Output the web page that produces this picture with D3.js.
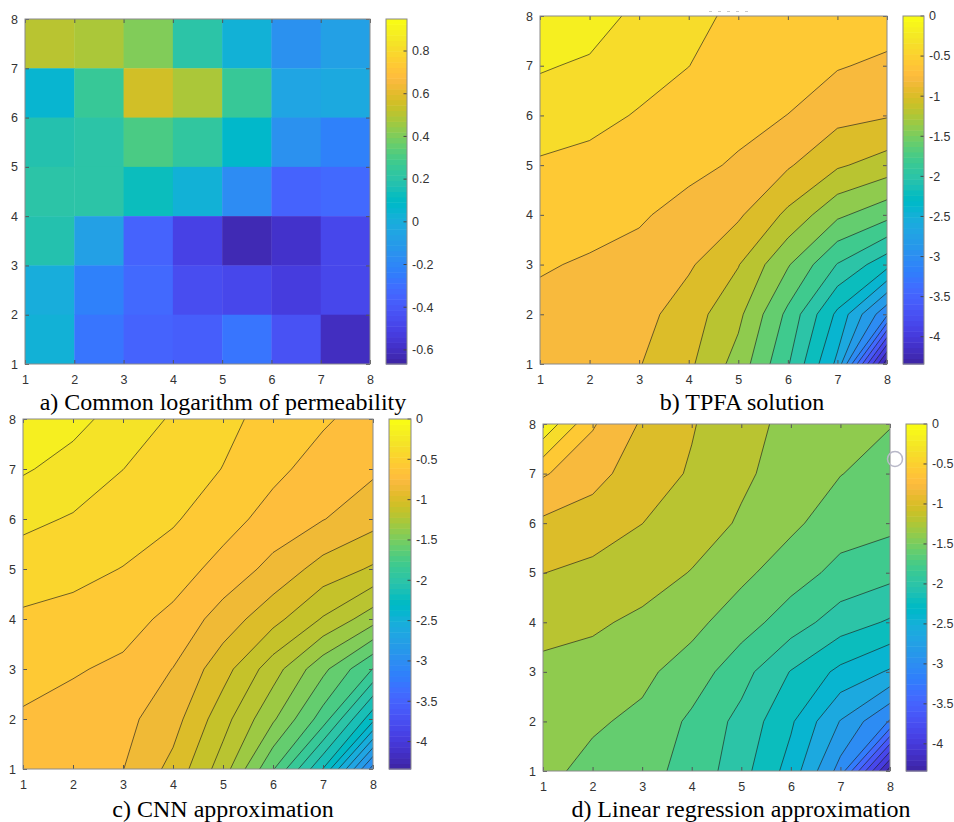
<!DOCTYPE html>
<html>
<head>
<meta charset="utf-8">
<script src="https://d3js.org/d3.v7.min.js"></script>
<style>
  body { margin: 0; background: #fff; }
  svg text { font-family: "Liberation Sans", Arial, sans-serif; }
  .axis text, .cbar text { font-size: 12.5px; fill: #333; }
  .axis line { stroke: #555; }
  .title { font-family: "Liberation Serif", "Times New Roman", serif; font-size: 24px; fill: #000; }
</style>
</head>
<body>
<svg id="fig" width="954" height="822"></svg>
<script>
// MATLAB parula(64)
const parula = [
  [0.2422,0.1504,0.6603],[0.2504,0.1650,0.7076],[0.2578,0.1818,0.7511],[0.2647,0.1978,0.7952],
  [0.2706,0.2147,0.8364],[0.2751,0.2342,0.8710],[0.2783,0.2559,0.8991],[0.2803,0.2782,0.9221],
  [0.2813,0.3006,0.9414],[0.2810,0.3228,0.9579],[0.2795,0.3447,0.9717],[0.2760,0.3667,0.9829],
  [0.2699,0.3892,0.9906],[0.2602,0.4123,0.9952],[0.2440,0.4358,0.9988],[0.2206,0.4603,0.9973],
  [0.1963,0.4847,0.9892],[0.1834,0.5074,0.9798],[0.1786,0.5289,0.9682],[0.1764,0.5499,0.9520],
  [0.1687,0.5703,0.9359],[0.1540,0.5902,0.9218],[0.1460,0.6091,0.9079],[0.1380,0.6276,0.8973],
  [0.1248,0.6459,0.8883],[0.1113,0.6635,0.8763],[0.0952,0.6798,0.8598],[0.0689,0.6948,0.8394],
  [0.0297,0.7082,0.8163],[0.0036,0.7203,0.7917],[0.0067,0.7312,0.7660],[0.0433,0.7411,0.7394],
  [0.0964,0.7500,0.7120],[0.1408,0.7584,0.6842],[0.1717,0.7670,0.6554],[0.1938,0.7758,0.6251],
  [0.2161,0.7843,0.5923],[0.2470,0.7918,0.5567],[0.2906,0.7973,0.5188],[0.3406,0.8008,0.4789],
  [0.3909,0.8029,0.4354],[0.4456,0.8024,0.3909],[0.5044,0.7993,0.3480],[0.5616,0.7942,0.3045],
  [0.6174,0.7876,0.2612],[0.6720,0.7793,0.2227],[0.7242,0.7698,0.1910],[0.7738,0.7598,0.1646],
  [0.8203,0.7498,0.1535],[0.8634,0.7406,0.1596],[0.9035,0.7330,0.1774],[0.9393,0.7288,0.2100],
  [0.9728,0.7298,0.2394],[0.9956,0.7434,0.2371],[0.9970,0.7659,0.2199],[0.9952,0.7893,0.2028],
  [0.9892,0.8136,0.1885],[0.9786,0.8386,0.1766],[0.9676,0.8639,0.1643],[0.9610,0.8890,0.1537],
  [0.9597,0.9135,0.1423],[0.9628,0.9373,0.1265],[0.9691,0.9606,0.1064],[0.9769,0.9839,0.0805]
];

// axes ticks (both axes run 1..8)
const gridTicks = [1, 2, 3, 4, 5, 6, 7, 8];

// colorbar of panel a
const permRange = [-0.666, 0.95];
const permTicks = [-0.6, -0.4, -0.2, 0, 0.2, 0.4, 0.6, 0.8];
const permTickLabels = ["-0.6", "-0.4", "-0.2", "0", "0.2", "0.4", "0.6", "0.8"];

// shared colorbar of panels b, c, d
const pressRange = [-4.34, 0];
const pressTicks = [0, -0.5, -1, -1.5, -2, -2.5, -3, -3.5, -4];
const pressTickLabels = ["0", "-0.5", "-1", "-1.5", "-2", "-2.5", "-3", "-3.5", "-4"];

// a) log10 permeability, 7x7 cells, top row (y 7..8) first, x 1..8 left to right
const permCells = [
  [0.52, 0.48, 0.40, 0.20, 0.02, -0.15, -0.08],
  [0.05, 0.25, 0.57, 0.48, 0.25, -0.04, -0.03],
  [0.18, 0.20, 0.30, 0.22, 0.08, -0.15, -0.22],
  [0.20, 0.20, 0.12, 0.03, -0.17, -0.35, -0.33],
  [0.18, -0.08, -0.34, -0.50, -0.63, -0.58, -0.47],
  [0.00, -0.22, -0.33, -0.45, -0.48, -0.52, -0.47],
  [0.03, -0.27, -0.35, -0.38, -0.27, -0.42, -0.60]
];

// b) TPFA solution on the 8x8 nodes, top row (y = 8) first
const tpfaGrid = [
  [-0.05, -0.10, -0.254, -0.36, -0.43, -0.46, -0.49, -0.50],
  [-0.18, -0.23, -0.333, -0.398, -0.49, -0.53, -0.585, -0.64],
  [-0.306, -0.35, -0.413, -0.479, -0.55, -0.602, -0.74, -0.785],
  [-0.421, -0.449, -0.497, -0.558, -0.62, -0.777, -0.973, -1.09],
  [-0.502, -0.534, -0.581, -0.655, -0.77, -1.043, -1.36, -1.535],
  [-0.583, -0.62, -0.653, -0.772, -0.99, -1.38, -1.81, -2.13],
  [-0.65, -0.69, -0.725, -0.904, -1.15, -1.65, -2.245, -2.96],
  [-0.70, -0.75, -0.79, -0.96, -1.28, -1.78, -2.45, -4.34]
];

// c) CNN approximation
const cnnGrid = [
  [-0.03, -0.122, -0.216, -0.309, -0.393, -0.470, -0.541, -0.613],
  [-0.147, -0.212, -0.293, -0.360, -0.429, -0.526, -0.612, -0.668],
  [-0.262, -0.306, -0.361, -0.411, -0.505, -0.608, -0.685, -0.774],
  [-0.361, -0.389, -0.430, -0.495, -0.604, -0.730, -0.875, -0.972],
  [-0.446, -0.468, -0.509, -0.591, -0.748, -0.909, -1.098, -1.293],
  [-0.510, -0.546, -0.583, -0.693, -0.901, -1.157, -1.446, -1.75],
  [-0.574, -0.607, -0.652, -0.769, -1.033, -1.329, -1.676, -2.234],
  [-0.637, -0.664, -0.687, -0.862, -1.152, -1.601, -2.147, -2.993]
];

// d) linear regression approximation
const lrGrid = [
  [-0.035, -0.58, -0.824, -0.987, -1.12, -1.26, -1.33, -1.391],
  [-0.58, -0.726, -0.912, -1.018, -1.17, -1.27, -1.394, -1.481],
  [-0.836, -0.902, -0.998, -1.112, -1.22, -1.358, -1.509, -1.55],
  [-0.997, -1.047, -1.118, -1.208, -1.352, -1.508, -1.659, -1.736],
  [-1.147, -1.172, -1.237, -1.342, -1.51, -1.70, -1.90, -2.024],
  [-1.238, -1.27, -1.356, -1.49, -1.725, -2.01, -2.25, -2.424],
  [-1.30, -1.375, -1.44, -1.64, -1.86, -2.17, -2.61, -3.017],
  [-1.354, -1.451, -1.54, -1.66, -1.925, -2.281, -2.88, -4.3]
];

// contour levels
const tpfaLevels = [-4.2, -4.0, -3.8, -3.6, -3.4, -3.2, -3.0, -2.8, -2.6, -2.4, -2.2,
                    -2.0, -1.8, -1.6, -1.4, -1.2, -1.0, -0.8, -0.6, -0.4, -0.2];
const cnnLevels = [-2.934, -2.802, -2.670, -2.538, -2.406, -2.274, -2.142, -2.010, -1.878,
                   -1.746, -1.614, -1.482, -1.350, -1.218, -1.086, -0.954, -0.822, -0.690,
                   -0.558, -0.426, -0.294, -0.162];
const lrLevels = tpfaLevels;

// panel boxes (pixels)
const layout = {
  a: { x0: 25, x1: 370, y0: 19, y1: 364, cb: [386, 407], tx: 223, ty: 410 },
  b: { x0: 540, x1: 887, y0: 16, y1: 364, cb: [903, 924], tx: 742, ty: 410 },
  c: { x0: 23, x1: 373, y0: 419, y1: 769, cb: [389, 411], tx: 223, ty: 817 },
  d: { x0: 543, x1: 890, y0: 424, y1: 771, cb: [906, 927], tx: 741, ty: 817 }
};

const svg = d3.select("#fig");

// value -> parula colour, direct scaled mapping like MATLAB
function cmap(v, range) {
  const t = (v - range[0]) / (range[1] - range[0]);
  const i = Math.max(0, Math.min(63, Math.floor(t * 64)));
  const c = parula[i];
  return d3.rgb(c[0] * 255, c[1] * 255, c[2] * 255).formatHex();
}

function scales(box) {
  const x = d3.scaleLinear().domain([1, 8]).range([box.x0, box.x1]);
  const y = d3.scaleLinear().domain([1, 8]).range([box.y1, box.y0]);
  return { x, y };
}

function drawFrame(box, x, y) {
  const g = svg.append("g");
  const fmt = d3.format("d");
  g.append("g").attr("class", "axis")
    .attr("transform", `translate(0,${box.y1})`)
    .call(d3.axisBottom(x).tickValues(gridTicks).tickFormat(fmt)
      .tickSize(-4).tickSizeOuter(0).tickPadding(11));
  g.append("g").attr("class", "axis")
    .attr("transform", `translate(${box.x0},0)`)
    .call(d3.axisLeft(y).tickValues(gridTicks).tickFormat(fmt)
      .tickSize(-4).tickSizeOuter(0).tickPadding(7));
  g.append("g").attr("class", "axis")
    .attr("transform", `translate(0,${box.y0})`)
    .call(d3.axisTop(x).tickValues(gridTicks).tickSize(-4).tickSizeOuter(0).tickFormat(() => ""));
  g.append("g").attr("class", "axis")
    .attr("transform", `translate(${box.x1},0)`)
    .call(d3.axisRight(y).tickValues(gridTicks).tickSize(-4).tickSizeOuter(0).tickFormat(() => ""));
  g.selectAll(".domain").remove();
  g.append("rect")
    .attr("x", box.x0).attr("y", box.y0)
    .attr("width", box.x1 - box.x0).attr("height", box.y1 - box.y0)
    .attr("fill", "none").attr("stroke", "#8a8a8a").attr("stroke-width", 1);
}

function drawColorbar(box, range, ticks, labels) {
  const cy = d3.scaleLinear().domain(range).range([box.y1, box.y0]);
  const [cx0, cx1] = box.cb;
  const g = svg.append("g").attr("class", "cbar");
  const span = range[1] - range[0];
  g.selectAll("rect.band").data(d3.range(64)).join("rect")
    .attr("class", "band")
    .attr("x", cx0).attr("width", cx1 - cx0)
    .attr("y", i => cy(range[0] + (i + 1) / 64 * span))
    .attr("height", i => cy(range[0] + i / 64 * span) - cy(range[0] + (i + 1) / 64 * span) + 0.5)
    .attr("fill", i => { const c = parula[i]; return d3.rgb(c[0] * 255, c[1] * 255, c[2] * 255).formatHex(); });
  g.selectAll("line.tk").data(ticks).join("line")
    .attr("class", "tk")
    .attr("x1", cx1 - 3.5).attr("x2", cx1)
    .attr("y1", d => cy(d)).attr("y2", d => cy(d))
    .attr("stroke", "#444");
  g.selectAll("text").data(ticks).join("text")
    .attr("x", cx1 + 5).attr("y", d => cy(d)).attr("dy", "0.35em")
    .text((d, i) => labels[i]);
  g.append("rect")
    .attr("x", cx0).attr("y", box.y0)
    .attr("width", cx1 - cx0).attr("height", box.y1 - box.y0)
    .attr("fill", "none").attr("stroke", "#8a8a8a");
}

function drawTitle(box, text) {
  svg.append("text").attr("class", "title")
    .attr("x", box.tx).attr("y", box.ty)
    .attr("text-anchor", "middle")
    .text(text);
}

function clipFor(id, box) {
  svg.append("clipPath").attr("id", id).append("rect")
    .attr("x", box.x0).attr("y", box.y0)
    .attr("width", box.x1 - box.x0).attr("height", box.y1 - box.y0);
  return svg.append("g").attr("clip-path", `url(#${id})`);
}

// panel a: heatmap
function drawHeatmap(box) {
  const { x, y } = scales(box);
  const cells = [];
  permCells.forEach((row, r) => row.forEach((v, c) => {
    cells.push({ xi: c + 1, yi: 7 - r, v });
  }));
  const g = clipFor("clip-a", box);
  g.selectAll("rect").data(cells).join("rect")
    .attr("x", d => x(d.xi))
    .attr("y", d => y(d.yi + 1))
    .attr("width", d => x(d.xi + 1) - x(d.xi) + 0.4)
    .attr("height", d => y(d.yi) - y(d.yi + 1) + 0.4)
    .attr("fill", d => cmap(d.v, permRange));
  drawFrame(box, x, y);
  drawColorbar(box, permRange, permTicks, permTickLabels);
  drawTitle(box, "a) Common logarithm of permeability");
}

// panels b-d: filled contours
function drawContourPanel(id, box, grid, levels, title) {
  const { x, y } = scales(box);
  const n = 8;
  const values = grid.slice().reverse().flat();   // row 0 = y 1
  const zmin = d3.min(values);
  const proj = d3.geoTransform({
    point(px, py) { this.stream.point(x(px + 0.5), y(py + 0.5)); }
  });
  const path = d3.geoPath(proj);
  const thresholds = [zmin - 1].concat(levels);
  const shapes = d3.contours().size([n, n]).thresholds(thresholds)(values);
  const g = clipFor("clip-" + id, box);
  g.selectAll("path.fill").data(shapes).join("path")
    .attr("class", "fill")
    .attr("d", path)
    .attr("fill-rule", "evenodd")
    .attr("fill", (d, i) => cmap(i === 0 ? zmin : d.value, pressRange));
  g.selectAll("path.line").data(shapes.slice(1)).join("path")
    .attr("class", "line")
    .attr("d", path)
    .attr("fill", "none")
    .attr("stroke", "#1e1e1e")
    .attr("stroke-opacity", 0.85)
    .attr("stroke-width", 0.75);
  drawFrame(box, x, y);
  drawColorbar(box, pressRange, pressTicks, pressTickLabels);
  drawTitle(box, title);
}

drawHeatmap(layout.a);
drawContourPanel("b", layout.b, tpfaGrid, tpfaLevels, "b) TPFA solution");
drawContourPanel("c", layout.c, cnnGrid, cnnLevels, "c) CNN approximation");
drawContourPanel("d", layout.d, lrGrid, lrLevels, "d) Linear regression approximation");

// faint marks visible in the source screenshot
svg.append("line")
  .attr("x1", 709).attr("x2", 752).attr("y1", 11.5).attr("y2", 11.5)
  .attr("stroke", "#c8c8c8").attr("stroke-width", 1).attr("stroke-dasharray", "3,6");
svg.append("circle")
  .attr("cx", 895).attr("cy", 459).attr("r", 7.5)
  .attr("fill", "none").attr("stroke", "#b8b8c8").attr("stroke-width", 1.5);
</script>
</body>
</html>
